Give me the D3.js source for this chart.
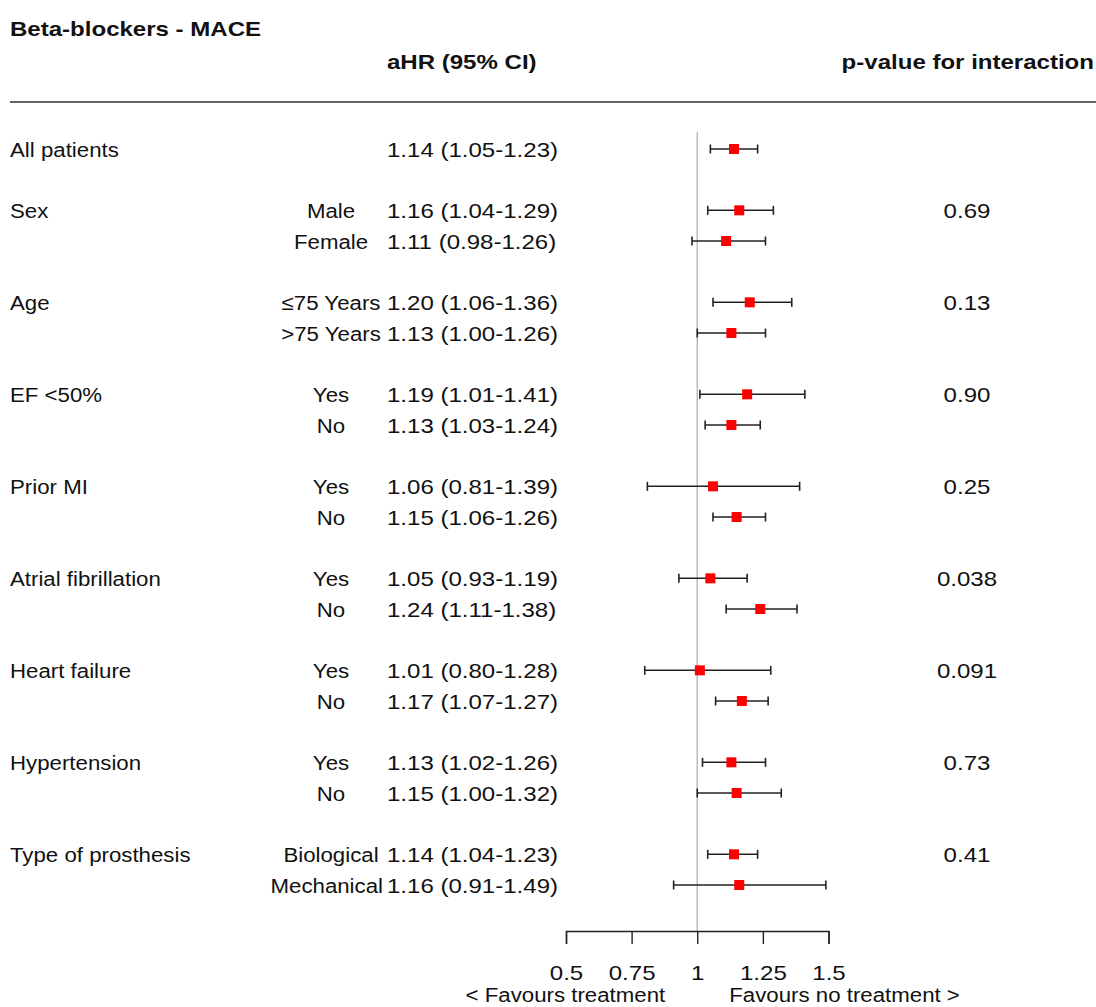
<!DOCTYPE html>
<html>
<head>
<meta charset="utf-8">
<script src="https://cdn.jsdelivr.net/npm/d3@7"></script>
<style>
  body { margin: 0; background: #fff; }
  text { font-family: "Liberation Sans", Arial, sans-serif; fill: #111; }
  .bold { font-weight: bold; }
</style>
</head>
<body>
<script>
// forest plot data
var groups = ["All patients", "Sex", "Age", "EF <50%", "Prior MI", "Atrial fibrillation",
              "Heart failure", "Hypertension", "Type of prosthesis"];
var subgroups = [[""], ["Male", "Female"], ["\u226475 Years", ">75 Years"], ["Yes", "No"], ["Yes", "No"],
                 ["Yes", "No"], ["Yes", "No"], ["Yes", "No"], ["Biological", "Mechanical"]];
var hr  = [[1.14], [1.16, 1.11], [1.20, 1.13], [1.19, 1.13], [1.06, 1.15], [1.05, 1.24], [1.01, 1.17], [1.13, 1.15], [1.14, 1.16]];
var lo  = [[1.05], [1.04, 0.98], [1.06, 1.00], [1.01, 1.03], [0.81, 1.06], [0.93, 1.11], [0.80, 1.07], [1.02, 1.00], [1.04, 0.91]];
var hi  = [[1.23], [1.29, 1.26], [1.36, 1.26], [1.41, 1.24], [1.39, 1.26], [1.19, 1.38], [1.28, 1.27], [1.26, 1.32], [1.23, 1.49]];
var pvals = ["", "0.69", "0.13", "0.90", "0.25", "0.038", "0.091", "0.73", "0.41"];
var xTicks = [0.5, 0.75, 1, 1.25, 1.5];

var width = 1096, height = 1007;
var fontSize = 21,
    sxNum = 1.145,   // numbers and bold headers
    sxTxt = 1.06;    // plain words

var svg = d3.select("body").append("svg")
    .attr("width", width)
    .attr("height", height);

// flatten into rows, one blank row between blocks
var rows = [];
var slot = 0;
groups.forEach(function(g, gi){
    subgroups[gi].forEach(function(s, si){
        rows.push({
            group: si == 0 ? g : "",
            sub: s,
            hr: hr[gi][si], lo: lo[gi][si], hi: hi[gi][si],
            p: si == 0 ? pvals[gi] : "",
            slot: slot
        });
        slot++;
    });
    slot++;
});
var lastSlot = rows[rows.length - 1].slot;

var x = d3.scaleLinear().domain([0.5, 1.5]).range([566, 828.5]);
var y = d3.scaleLinear().domain([0, lastSlot]).range([149, 885]);

function addText(sel, tx, ty, anchor, sx, cls){
    return sel.append("text")
        .attr("class", cls || null)
        .attr("text-anchor", anchor)
        .attr("font-size", fontSize)
        .attr("transform", "translate(" + tx + "," + ty + ") scale(" + sx + ",1)");
}

// header
addText(svg, 10, 36, "start", sxNum, "bold").text("Beta-blockers - MACE");
addText(svg, 387, 69, "start", sxNum, "bold").text("aHR (95% CI)");
addText(svg, 1094, 69, "end", sxNum, "bold").text("p-value for interaction");
svg.append("line")
    .attr("x1", 10).attr("x2", 1096)
    .attr("y1", 102).attr("y2", 102)
    .attr("stroke", "#333").attr("stroke-width", 1.5);

// reference line at 1
svg.append("line")
    .attr("x1", x(1)).attr("x2", x(1))
    .attr("y1", 132).attr("y2", 931)
    .attr("stroke", "#bbb").attr("stroke-width", 1.5);

// text columns
rows.forEach(function(r){
    var ty = y(r.slot) + 7.5;
    if (r.group) addText(svg, 10, ty, "start", sxTxt).text(r.group);
    if (r.sub) {
        var t = addText(svg, 331, ty, "middle", sxTxt).text(r.sub);
        var w = t.node().getComputedTextLength() * sxTxt;
        if (331 + w / 2 > 383) {
            t.attr("transform", "translate(" + (383 - w / 2) + "," + ty + ") scale(" + sxTxt + ",1)");
        }
    }
    addText(svg, 387, ty, "start", sxNum).text(r.hr.toFixed(2) + " (" + r.lo.toFixed(2) + "-" + r.hi.toFixed(2) + ")");
    if (r.p) addText(svg, 967, ty, "middle", sxNum).text(r.p);
});

// confidence intervals
var ci = svg.selectAll(".ci").data(rows).enter().append("g").attr("class", "ci");
ci.append("line")
    .attr("x1", function(d){ return x(d.lo); })
    .attr("x2", function(d){ return x(d.hi); })
    .attr("y1", function(d){ return y(d.slot); })
    .attr("y2", function(d){ return y(d.slot); })
    .attr("stroke", "#222").attr("stroke-width", 1.5);
["lo", "hi"].forEach(function(k){
    ci.append("line")
        .attr("x1", function(d){ return x(d[k]); })
        .attr("x2", function(d){ return x(d[k]); })
        .attr("y1", function(d){ return y(d.slot) - 4.5; })
        .attr("y2", function(d){ return y(d.slot) + 4.5; })
        .attr("stroke", "#222").attr("stroke-width", 1.6);
});
ci.append("rect")
    .attr("x", function(d){ return x(d.hr) - 5; })
    .attr("y", function(d){ return y(d.slot) - 5; })
    .attr("width", 10).attr("height", 10)
    .attr("fill", "#ff0000");

// x axis
var axis = svg.append("g")
    .attr("transform", "translate(0,931)")
    .call(d3.axisBottom(x).tickValues(xTicks).tickSize(13).tickPadding(21)
        .tickFormat(function(d){ return String(d); }));
axis.select(".domain").attr("stroke", "#222").attr("stroke-width", 1.4);
axis.selectAll(".tick line").attr("stroke", "#222").attr("stroke-width", 1.4);
axis.selectAll(".tick text")
    .attr("font-size", fontSize)
    .attr("font-family", "Liberation Sans, Arial, sans-serif")
    .attr("fill", "#111")
    .attr("transform", "scale(" + sxNum + ",1)")
    .attr("x", 0);

addText(svg, x(1) - 32, 1002, "end", sxTxt).text("< Favours treatment");
addText(svg, x(1) + 32, 1002, "start", sxTxt).text("Favours no treatment >");
</script>
</body>
</html>
